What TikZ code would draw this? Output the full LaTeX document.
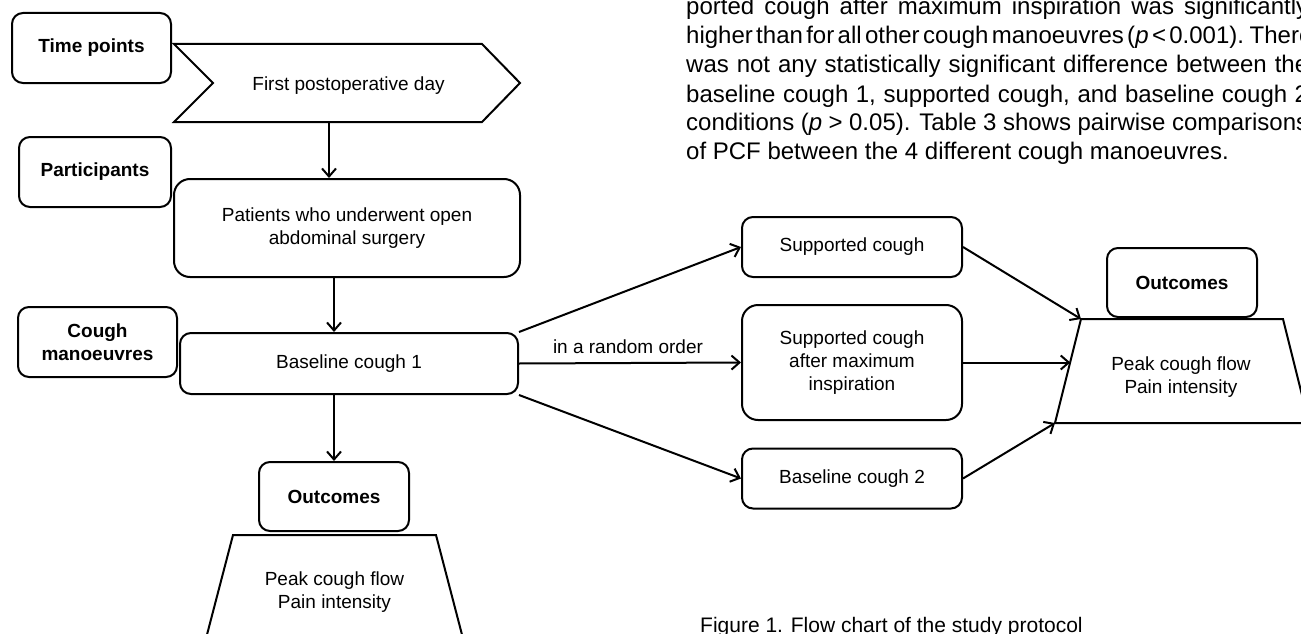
\documentclass[tikz,border=0pt]{standalone}
\usepackage{fontspec}
\setmainfont{Liberation Sans}
\usetikzlibrary{arrows.meta}
\begin{document}
\begin{tikzpicture}[x=1pt,y=-1pt,
  every node/.style={font=\fontsize{19}{23}\selectfont, inner sep=0pt},
  lab/.style={draw, line width=2pt, rounded corners=11pt, align=center, font=\fontsize{19}{23}\selectfont\bfseries},
  box/.style={draw, line width=2pt, rounded corners=11pt, align=center},
  shp/.style={draw, line width=2pt, line join=miter},
  arr/.style={line width=2pt, -{Straight Barb[length=8pt,width=14pt,line width=2pt]}},
  para/.style={anchor=base west, font=\fontsize{24}{29}\selectfont},
  txt/.style={align=center}
]
\useasboundingbox (0,0) rectangle (1301,634);

% left labels
\node[lab, minimum width=159pt, minimum height=70pt] (tp) at (91.5,48) {Time points};
\node[lab, minimum width=152pt, minimum height=70pt] (part) at (95,172) {Participants};
\node[lab, minimum width=159pt, minimum height=70pt] (cm) at (97.5,342) {Cough\\manoeuvres};
\node[lab, minimum width=150pt, minimum height=69pt] (out1) at (334,496.5) {Outcomes};
\node[lab, minimum width=150pt, minimum height=69pt] (out2) at (1182,282.5) {Outcomes};

% chevron
\coordinate (c1) at (174,44);
\coordinate (c2) at (482,44);
\coordinate (c3) at (520,83);
\coordinate (c4) at (482,122);
\coordinate (c5) at (174,122);
\coordinate (c6) at (213,83);
\draw[shp] (c1) -- (c2) -- (c3) -- (c4) -- (c5) -- (c6) -- cycle;
\node[anchor=base] (day) at (348.5,91) {First postoperative day};
\coordinate (cb) at (329,122);

% main boxes
\node[box, minimum width=346pt, minimum height=98pt, rounded corners=16pt] (patients) at (347,228) {Patients who underwent open\\abdominal surgery};
\node[box, minimum width=338pt, minimum height=61pt] (bc1) at (349,363.5) {Baseline cough 1};
\node[box, minimum width=220pt, minimum height=60pt] (sc) at (852,247) {Supported cough};
\node[box, minimum width=220pt, minimum height=115pt, rounded corners=16pt] (scm) at (852,362.5) {Supported cough\\after maximum\\inspiration};
\node[box, minimum width=220pt, minimum height=60pt] (bc2) at (852,478.5) {Baseline cough 2};

% trapezoids
\coordinate (t1tl) at (233,535);
\coordinate (t1tr) at (436,535);
\coordinate (t1br) at (466,650);
\coordinate (t1bl) at (203,650);
\draw[shp] (t1tl) -- (t1tr) -- (t1br) -- (t1bl) -- cycle;
\node[txt] (pcf1) at (334.5,592) {Peak cough flow\\Pain intensity};

\coordinate (t2tl) at (1081,319);
\coordinate (t2tr) at (1283,319);
\coordinate (t2br) at (1309,423);
\coordinate (t2bl) at (1055,423);
\coordinate (t2l) at (1070.25,362.5);
\draw[shp] (t2tl) -- (t2tr) -- (t2br) -- (t2bl) -- cycle;
\node[txt] (pcf2) at (1181,377.5) {Peak cough flow\\Pain intensity};

% connectors
\draw[arr] (cb) -- (cb |- patients.north);
\draw[arr] (out1.north |- patients.south) -- (out1.north |- bc1.north);
\draw[arr] (out1.north |- bc1.south) -- (out1.north);
\draw[arr] (bc1.north east) -- (sc.west);
\draw[arr] (bc1.east) -- (scm.west);
\draw[arr] (bc1.south east) -- (bc2.west);
\node[anchor=base] (rnd) at (628,353) {in a random order};
\draw[arr] (sc.east) -- (t2tl);
\draw[arr] (scm.east) -- (t2l);
\draw[arr] (bc2.east) -- (t2bl);

% paragraph
\node[para] (p1) at (686,15) {\makebox[622pt][s]{ported cough after maximum inspiration was significantly}};
\node[para] (p2) at (686,44) {\spaceskip=0.14em plus 1em\makebox[622pt][s]{higher than for all other cough manoeuvres (\textit{p} < 0.001). There}};
\node[para] (p3) at (686,73) {\makebox[622pt][s]{was not any statistically significant difference between the}};
\node[para] (p4) at (686,102) {\makebox[622pt][s]{baseline cough 1, supported cough, and baseline cough 2}};
\node[para] (p5) at (686,130) {\makebox[622pt][s]{conditions (\textit{p} > 0.05). Table 3 shows pairwise comparisons}};
\node[para] (p6) at (686,159) {of PCF between the 4 different cough manoeuvres.};

% caption
\node[anchor=base west, font=\fontsize{21}{25}\selectfont] (cap) at (700,632) {Figure 1. Flow chart of the study protocol};
\end{tikzpicture}
\end{document}
